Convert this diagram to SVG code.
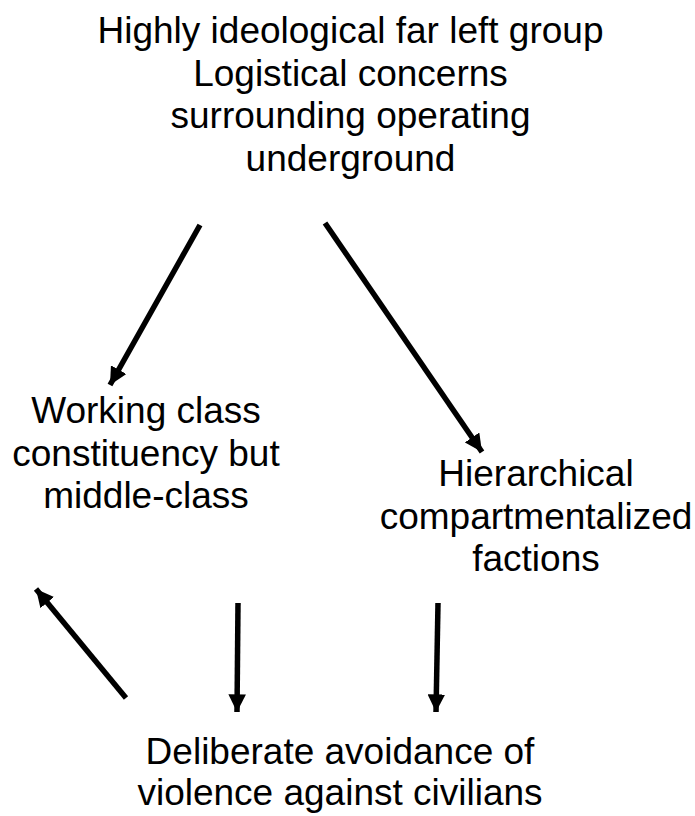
<svg xmlns="http://www.w3.org/2000/svg" width="695" height="816" viewBox="0 0 695 816">
<style>
text{font-family:"Liberation Sans",Arial,sans-serif;font-size:37px;fill:#000;text-anchor:middle}
.c line{stroke:#000;stroke-width:5.5}
</style>
<defs>
<marker id="ah" viewBox="0 0 10 10" refX="10" refY="5" markerWidth="3.2" markerHeight="3.2" orient="auto" markerUnits="strokeWidth">
<path d="M0,0L10,5L0,10z" fill="#000"/>
</marker>
</defs>
<rect width="695" height="816" fill="#fff"/>
<g id="top">
<text x="350.5" y="43">Highly ideological far left group</text>
<text x="350.5" y="85.5">Logistical concerns</text>
<text x="350.5" y="128">surrounding operating</text>
<text x="350.5" y="170.5">underground</text>
</g>
<g id="working">
<text x="146" y="423">Working class</text>
<text x="146" y="465.5">constituency but</text>
<text x="146" y="508">middle-class</text>
</g>
<g id="hier">
<text x="536" y="486">Hierarchical</text>
<text x="536" y="528.5">compartmentalized</text>
<text x="536" y="571">factions</text>
</g>
<g id="bottom">
<text x="340" y="764">Deliberate avoidance of</text>
<text x="340" y="805">violence against civilians</text>
</g>
<g class="c" id="connectors">
<line x1="200" y1="225" x2="110" y2="385" marker-end="url(#ah)"/>
<line x1="325" y1="223" x2="482" y2="452" marker-end="url(#ah)"/>
<line x1="126" y1="698" x2="36" y2="589" marker-end="url(#ah)"/>
<line x1="238" y1="603" x2="237" y2="712" marker-end="url(#ah)"/>
<line x1="438" y1="603" x2="436" y2="712" marker-end="url(#ah)"/>
</g>
</svg>
